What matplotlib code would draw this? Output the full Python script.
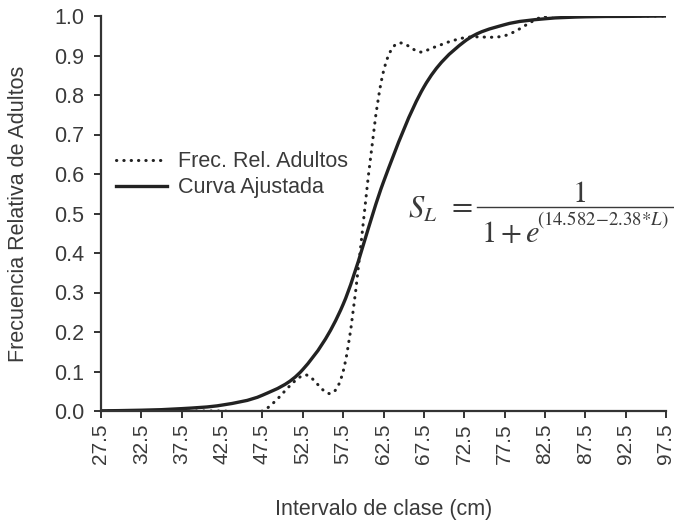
import matplotlib
matplotlib.use("Agg")
import matplotlib.pyplot as plt
from matplotlib.path import Path
from matplotlib.patches import PathPatch
from matplotlib.lines import Line2D

# ---- data ----
class_interval = [27.5, 32.5, 37.5, 42.5, 47.5, 52.5, 57.5, 62.5, 67.5,
                  72.5, 77.5, 82.5, 87.5, 92.5, 97.5]
frec_rel_adultos = [0.0, 0.0, 0.0, 0.0, 0.0, 0.09, 0.10, 0.86, 0.91,
                    0.945, 0.95, 1.0, 1.0, 1.0, 1.0]
curva_ajustada = [0.0005, 0.002, 0.006, 0.015, 0.04, 0.105, 0.27, 0.58, 0.82,
                  0.935, 0.978, 0.993, 0.998, 0.999, 1.0]
xtick_labels = ["27.5", "32.5", "37.5", "42.5", "47.5", "52.5", "57.5", "62.5",
                "67.5", "72.5", "77.5", "82.5", "87.5", "92.5", "97.5"]
yticks = [0.0, 0.1, 0.2, 0.3, 0.4, 0.5, 0.6, 0.7, 0.8, 0.9, 1.0]

TXT = "#3a3a3a"
LINE = "#222222"
FS = 15.5
plt.rcParams['font.family'] = ['Liberation Sans', 'DejaVu Sans']
plt.rcParams['mathtext.fontset'] = 'stix'

W, H = 674, 525


def smooth_path(xs, ys):
    """Excel-style smoothed line (Catmull-Rom as cubic Bezier) through data."""
    pts = list(zip(xs, ys))
    n = len(pts)
    verts = [pts[0]]
    codes = [Path.MOVETO]
    for i in range(n - 1):
        p0 = pts[i - 1] if i > 0 else pts[i]
        p1 = pts[i]
        p2 = pts[i + 1]
        p3 = pts[i + 2] if i + 2 < n else pts[i + 1]
        c1 = (p1[0] + (p2[0] - p0[0]) / 6.0, p1[1] + (p2[1] - p0[1]) / 6.0)
        c2 = (p2[0] - (p3[0] - p1[0]) / 6.0, p2[1] - (p3[1] - p1[1]) / 6.0)
        verts += [c1, c2, p2]
        codes += [Path.CURVE4] * 3
    return Path(verts, codes)


fig = plt.figure(figsize=(W / 100, H / 100), dpi=100)
ax = fig.add_axes([101 / W, 1 - 411 / H, 565 / W, 395 / H])

lw = 2.2
dots = (0, (0.1, 2.3))

p_obs = PathPatch(smooth_path(class_interval, frec_rel_adultos), fill=False,
                  edgecolor=LINE, linewidth=lw, linestyle=dots, capstyle='round')
p_fit = PathPatch(smooth_path(class_interval, curva_ajustada), fill=False,
                  edgecolor=LINE, linewidth=2.4, capstyle='round')
ax.add_patch(p_obs)
ax.add_patch(p_fit)

ax.set_xlim(27.5, 97.5)
ax.set_ylim(0, 1.0)
ax.set_xticks(class_interval)
ax.set_xticklabels(xtick_labels, rotation=90, fontsize=15, color=TXT)
ax.set_yticks(yticks)
ax.set_yticklabels([f"{v:.1f}" for v in yticks], fontsize=FS, color=TXT)
ax.tick_params(direction='out', length=5, width=1.4, color="#333333")
ax.tick_params(axis='x', pad=4)
ax.tick_params(axis='y', pad=7)

for s in ['top', 'right']:
    ax.spines[s].set_visible(False)
for s in ['left', 'bottom']:
    ax.spines[s].set_color("#333333")
    ax.spines[s].set_linewidth(1.6)

ax.set_xlabel("Intervalo de clase (cm)", fontsize=FS, color=TXT, labelpad=25)
ax.set_ylabel("Frecuencia Relativa de Adultos", fontsize=FS, color=TXT, labelpad=18)

handles = [Line2D([], [], color=LINE, linewidth=lw, linestyle=dots,
                  dash_capstyle='round'),
           Line2D([], [], color=LINE, linewidth=2.4)]
ax.legend(handles, ["Frec. Rel. Adultos", "Curva Ajustada"],
          loc='center left', bbox_to_anchor=(0.0265, 0.598), frameon=False,
          borderaxespad=0, borderpad=0,
          fontsize=FS, handlelength=2.35, handletextpad=0.55, labelspacing=0.22,
          labelcolor=TXT)

# ---- equation S_L = 1 / (1 + e^(14.582 - 2.38*L)) ----
def fx(px):
    return px / W


def fy(py):
    return 1 - py / H


EQ = 22
fig.text(fx(408), fy(218), r'$S_L$', fontsize=EQ, color=TXT,
         ha='left', va='baseline')
fig.text(fx(460), fy(214), r'$=$', fontsize=EQ, color=TXT,
         ha='center', va='baseline')
fig.add_artist(Line2D([fx(477), fx(673)], [fy(207), fy(207)],
                      color=TXT, linewidth=1.0, transform=fig.transFigure))
fig.text(fx(579), fy(202), r'$1$', fontsize=EQ, color=TXT,
         ha='center', va='baseline')
fig.text(fx(481), fy(242), r'$1+e$', fontsize=EQ, color=TXT,
         ha='left', va='baseline')
fig.text(fx(537), fy(225), r'$(14.582\!-\!2.38{*}L)$', fontsize=13.5,
         color=TXT, ha='left', va='baseline')

fig.savefig("out.png", dpi=100)
